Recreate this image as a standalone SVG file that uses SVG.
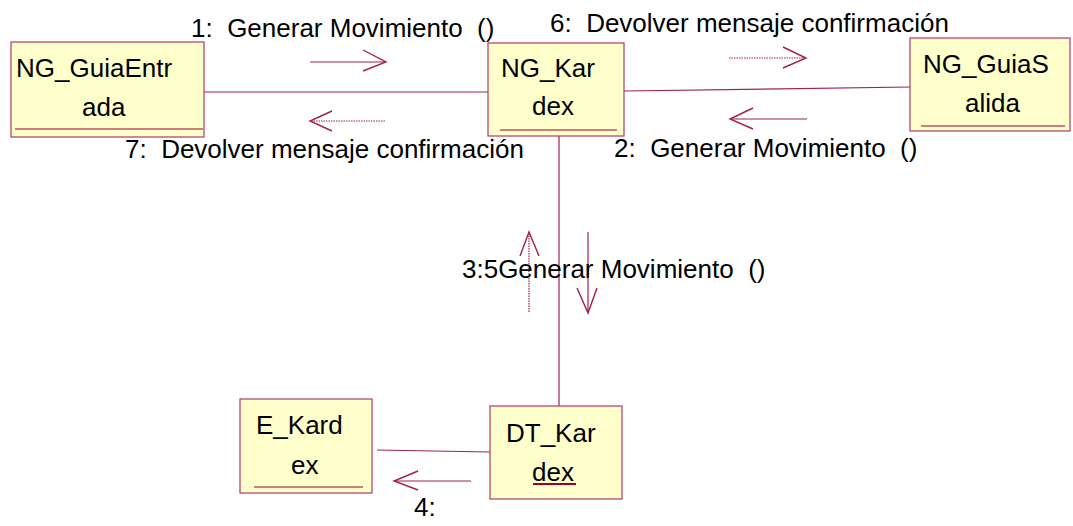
<svg xmlns="http://www.w3.org/2000/svg" width="1073" height="526" viewBox="0 0 1073 526">
<style>
.box{fill:#FFFFCC;stroke:#B03A66;stroke-width:1.2}
.ul{stroke:#990033;stroke-width:1.2}
.ln{stroke:#A02050;stroke-width:1.2;fill:none}
.dot{stroke:#A02050;stroke-width:1.2;fill:none;stroke-dasharray:1.5,1}
.hd{stroke:#A02050;stroke-width:1.4;fill:none}
text{font-family:"Liberation Sans",Arial,sans-serif;font-size:26px;fill:#000}
</style>
<rect width="1073" height="526" fill="#fff"/>
<g id="connectors">
<line class="ln" x1="204" y1="92" x2="488" y2="92"/>
<line class="ln" x1="624" y1="91" x2="910" y2="87"/>
<line class="ln" x1="559" y1="136" x2="559" y2="406"/>
<line class="ln" x1="377" y1="450" x2="490" y2="452"/>
<!-- 1 -->
<line class="ln" x1="310" y1="62" x2="386" y2="62"/>
<polyline class="hd" points="363,50 386,62 363,71"/>
<text x="191" y="37" xml:space="preserve">1:  Generar Movimiento  ()</text>
<!-- 7 -->
<line class="dot" x1="385" y1="121" x2="311" y2="121"/>
<polyline class="hd" points="332,111 310,121 332,131"/>
<text x="125" y="158" xml:space="preserve">7:  Devolver mensaje confirmación</text>
<!-- 6 -->
<line class="dot" x1="729" y1="58" x2="805" y2="58"/>
<polyline class="hd" points="783,47 806,58 783,68"/>
<text x="550" y="32" xml:space="preserve">6:  Devolver mensaje confirmación</text>
<!-- 2 -->
<line class="ln" x1="807" y1="119" x2="731" y2="119"/>
<polyline class="hd" points="753,108 730,119 753,129"/>
<text x="614" y="157" xml:space="preserve">2:  Generar Movimiento  ()</text>
<!-- 3/5 -->
<line class="dot" x1="529" y1="312" x2="529" y2="233"/>
<polyline class="hd" points="520,256 529,232 539,256"/>
<line class="ln" x1="588" y1="232" x2="588" y2="312"/>
<polyline class="hd" points="577,288 588,313 597,288"/>
<text x="462" y="278" xml:space="preserve">3:5Generar Movimiento  ()</text>
<!-- 4 -->
<line class="ln" x1="471" y1="481" x2="395" y2="481"/>
<polyline class="hd" points="418,471 394,481 418,490"/>
<text x="414" y="516">4:</text>
</g>
<g id="NG_GuiaEntrada">
<rect class="box" x="11" y="42" width="193" height="95"/>
<line class="ul" x1="15" y1="129" x2="203" y2="129"/>
<text x="16" y="77">NG_GuiaEntr</text>
<text x="82" y="116">ada</text>
</g>
<g id="NG_Kardex">
<rect class="box" x="488" y="43" width="136" height="93"/>
<line class="ul" x1="500" y1="130" x2="617" y2="130"/>
<text x="501" y="77">NG_Kar</text>
<text x="532" y="115">dex</text>
</g>
<g id="NG_GuiaSalida">
<rect class="box" x="910" y="38" width="160" height="93"/>
<line class="ul" x1="921" y1="126" x2="1065" y2="126"/>
<text x="923" y="73">NG_GuiaS</text>
<text x="965" y="112">alida</text>
</g>
<g id="E_Kardex">
<rect class="box" x="240" y="399" width="132" height="94"/>
<line class="ul" x1="254" y1="487" x2="363" y2="487"/>
<text x="256" y="434">E_Kard</text>
<text x="291" y="474">ex</text>
</g>
<g id="DT_Kardex">
<rect class="box" x="490" y="406" width="132" height="93"/>
<text x="506" y="442">DT_Kar</text>
<text x="532" y="481">dex</text>
<line stroke="#990033" stroke-width="2" x1="533" y1="484" x2="576" y2="484"/>
</g>
</svg>
